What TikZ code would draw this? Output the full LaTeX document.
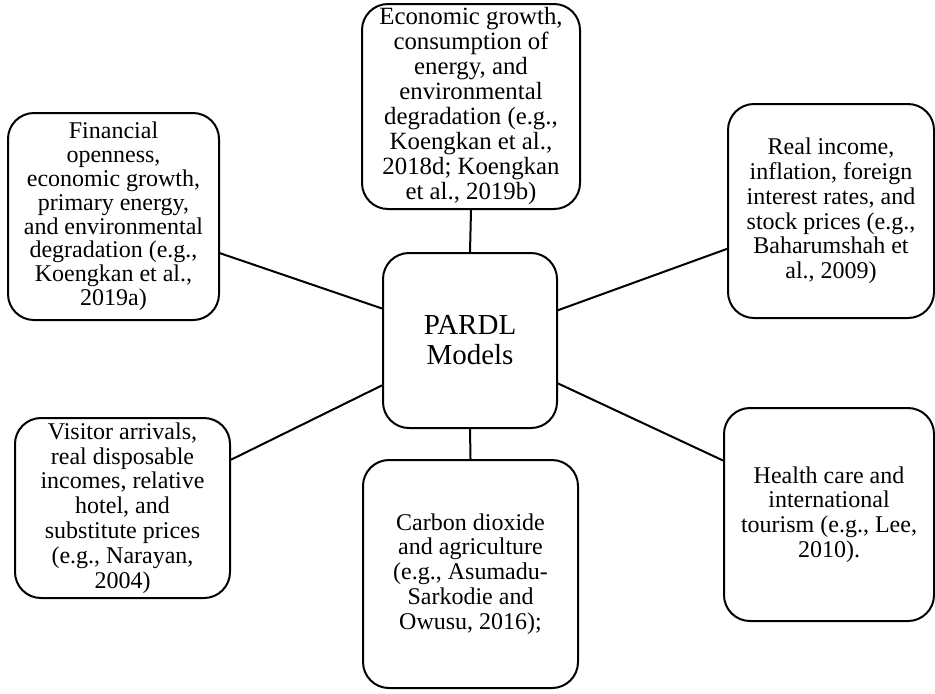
\documentclass[tikz,border=0pt]{standalone}
\usepackage{fontspec}
\setmainfont{Liberation Serif}
\begin{document}
\begin{tikzpicture}[x=0.5pt,y=-0.5pt,
    box/.style={draw,line width=1pt,rounded corners=13pt,align=center,
      inner sep=0pt,font=\fontsize{12}{12.4}\selectfont},
    link/.style={line width=1pt}]
  \useasboundingbox (0,0) rectangle (935,693);

  %% hub
  \node[box,minimum width=87pt,minimum height=87.5pt,
    font=\fontsize{14.5}{15}\selectfont] (hub) at (470,340.5) {PARDL\\Models};

  %% the six studies round it
  \node[box,minimum width=105.5pt,minimum height=103.5pt,
    font=\fontsize{12}{11.9}\selectfont] (fin) at (113.5,216.5)
    {Financial\\openness,\\economic growth,\\primary energy,\\and environmental\\degradation (e.g.,\\Koengkan et al.,\\2019a)};
  \node[box,minimum width=109pt,minimum height=102.5pt,
    font=\fontsize{12.4}{12.5}\selectfont] (econ) at (471,106.5)
    {Economic growth,\\consumption of\\energy, and\\environmental\\degradation (e.g.,\\Koengkan et al.,\\2018d; Koengkan\\et al., 2019b)};
  \node[box,minimum width=103pt,minimum height=107pt] (income) at (831,211)
    {Real income,\\inflation, foreign\\interest rates, and\\stock prices (e.g.,\\Baharumshah et\\al., 2009)};
  \node[box,minimum width=107.5pt,minimum height=90pt] (visitor) at (122.5,508)
    {Visitor arrivals,\\real disposable\\incomes, relative\\hotel, and\\substitute prices\\(e.g., Narayan,\\2004)};
  \node[box,minimum width=107.5pt,minimum height=114pt] (carbon) at (470.5,574)
    {Carbon dioxide\\and agriculture\\(e.g., Asumadu-\\Sarkodie and\\Owusu, 2016);};
  \node[box,minimum width=105pt,minimum height=106.5pt] (health) at (829,514.5)
    {Health care and\\international\\tourism (e.g., Lee,\\2010).};

  % spokes
  \foreach \from/\to in {hub.160.7/fin.-19.1, hub.north/econ.south,
      hub.19.9/income.200.7, hub.207.1/visitor.24.1,
      hub.south/carbon.north, hub.334/health.153.9}
    \draw[link] (\from) -- (\to);
\end{tikzpicture}
\end{document}
